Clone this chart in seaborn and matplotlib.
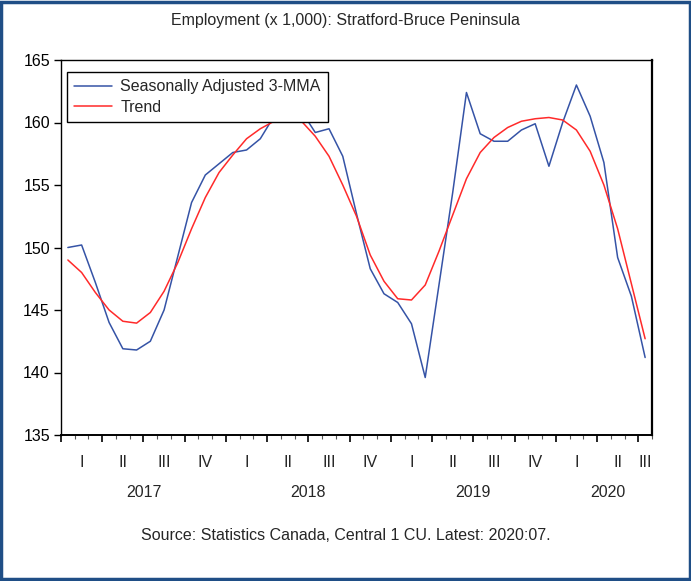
import matplotlib
matplotlib.use("Agg")
import matplotlib.pyplot as plt
from matplotlib.patches import Rectangle
from matplotlib.ticker import FixedLocator, NullFormatter
import numpy as np
import pandas as pd
import seaborn as sns

# Monthly series, 2017:01 .. 2020:07
months = pd.period_range("2017-01", "2020-07", freq="M").strftime("%Y:%m").tolist()

sa_3mma = [150.0, 150.2, 147.2, 144.0, 141.9, 141.8, 142.5, 145.0, 149.3, 153.6,
           155.8, 156.7, 157.6, 157.8, 158.7, 160.5, 161.2, 160.9, 159.2, 159.5,
           157.3, 152.7, 148.3, 146.3, 145.6, 143.9, 139.6, 147.0, 154.4, 162.4,
           159.1, 158.5, 158.5, 159.4, 159.9, 156.5, 160.0, 163.0, 160.5, 156.8,
           149.2, 146.1, 141.2]

trend = [149.0, 148.0, 146.4, 145.0, 144.1, 143.95, 144.8, 146.5, 148.8, 151.5,
         154.0, 156.0, 157.4, 158.7, 159.5, 160.1, 160.4, 160.1, 158.9, 157.3,
         155.0, 152.5, 149.4, 147.3, 145.9, 145.8, 147.0, 149.7, 152.6, 155.5,
         157.6, 158.8, 159.6, 160.1, 160.3, 160.4, 160.2, 159.4, 157.7, 155.0,
         151.5, 147.1, 142.7]

series_names = ["Seasonally Adjusted 3-MMA", "Trend"]
series_colors = ["#3553A6", "#FF2A2A"]

quarter_labels = ["I", "II", "III", "IV"] * 3 + ["I", "II", "III"]
year_labels = ["2017", "2018", "2019", "2020"]
y_ticks = [135, 140, 145, 150, 155, 160, 165]

title_text = "Employment (x 1,000): Stratford-Bruce Peninsula"
source_text = "Source: Statistics Canada, Central 1 CU. Latest: 2020:07."

# Long-form table for seaborn
idx = np.arange(len(months))
df = pd.DataFrame({
    "t": np.concatenate([idx, idx]),
    "value": sa_3mma + trend,
    "series": [series_names[0]] * len(idx) + [series_names[1]] * len(idx),
})

sns.set_style("white")
plt.rcParams["font.family"] = ["Liberation Sans", "DejaVu Sans"]
FS = 11.5

W, H = 691, 581
fig = plt.figure(figsize=(W / 100, H / 100), dpi=100)
ax = fig.add_axes([61 / W, 1 - 435 / H, (652 - 61) / W, (435 - 60) / H])

sns.lineplot(data=df, x="t", y="value", hue="series", hue_order=series_names,
             palette=series_colors, linewidth=1.1, ax=ax, legend=True)

n = len(months)
ax.set_xlim(-0.5, n - 0.5)
ax.set_ylim(135, 165)
ax.set_xlabel("")
ax.set_ylabel("")

# y axis
ax.set_yticks(y_ticks)
ax.set_yticklabels([str(v) for v in y_ticks], fontsize=FS)
ax.tick_params(axis="y", direction="out", length=5, width=1, color="black", pad=3,
               left=True, labelcolor="black")

# x axis: monthly minor ticks, quarterly major ticks
ax.xaxis.set_major_locator(FixedLocator(np.arange(-0.5, n, 3)))
ax.xaxis.set_minor_locator(FixedLocator(np.arange(-0.5, n + 0.5, 1)))
ax.xaxis.set_major_formatter(NullFormatter())
ax.tick_params(axis="x", which="major", direction="out", length=5, width=1.2,
               color="black", bottom=True)
ax.tick_params(axis="x", which="minor", direction="out", length=3, width=0.8,
               color="#555555", bottom=True)

# quarter labels centred in each quarter
q_centers = [1 + 3 * k for k in range(14)] + [42]
for xc, lab in zip(q_centers, quarter_labels):
    ax.text(xc, -0.074, lab, transform=ax.get_xaxis_transform(), ha="center",
            va="center", fontsize=FS)

# year labels centred under each year
y_centers = [5.5, 17.5, 29.5, 39.3]
for xc, lab in zip(y_centers, year_labels):
    ax.text(xc, -0.153, lab, transform=ax.get_xaxis_transform(), ha="center",
            va="center", fontsize=FS)

for s in ax.spines.values():
    s.set_visible(True)
    s.set_color("black")
    s.set_linewidth(1.0)
ax.spines["right"].set_linewidth(1.6)
ax.spines["bottom"].set_linewidth(1.4)

leg = ax.legend(loc="upper left", bbox_to_anchor=(0.01, 0.968), fontsize=FS,
                frameon=True, fancybox=False, framealpha=1, borderpad=0.45,
                handlelength=2.4, handletextpad=0.5, labelspacing=0.35,
                borderaxespad=0.0)
leg.get_frame().set_edgecolor("black")
leg.get_frame().set_linewidth(1.0)

fig.text(0.5, 1 - 20 / H, title_text, ha="center", va="center", fontsize=FS)
fig.text(0.5, 1 - 535 / H, source_text, ha="center", va="center", fontsize=FS)

# outer frame
fig.patches.append(Rectangle((0.002, 0.003), 0.996, 0.994, transform=fig.transFigure,
                             fill=False, edgecolor="#1F4E86", linewidth=2.5))

fig.savefig("out.png", dpi=100)
